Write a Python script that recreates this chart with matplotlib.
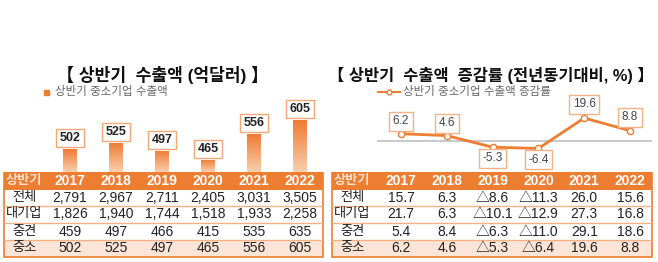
import numpy as np
import matplotlib.pyplot as plt
from matplotlib.lines import Line2D
from matplotlib.patches import Rectangle
from matplotlib.colors import LinearSegmentedColormap

plt.rcParams['font.family'] = ['Liberation Sans', 'Noto Sans CJK KR', 'DejaVu Sans']

# data
years = ['2017', '2018', '2019', '2020', '2021', '2022']
sme_export = [502, 525, 497, 465, 556, 605]
sme_growth = [6.2, 4.6, -5.3, -6.4, 19.6, 8.8]

row_names = ['전체', '대기업', '중견', '중소']
export_rows = [
    ['2,791', '2,967', '2,711', '2,405', '3,031', '3,505'],
    ['1,826', '1,940', '1,744', '1,518', '1,933', '2,258'],
    ['459', '497', '466', '415', '535', '635'],
    ['502', '525', '497', '465', '556', '605'],
]
growth_rows = [
    ['15.7', '6.3', '△8.6', '△11.3', '26.0', '15.6'],
    ['21.7', '6.3', '△10.1', '△12.9', '27.3', '16.8'],
    ['5.4', '8.4', '△6.3', '△11.0', '29.1', '18.6'],
    ['6.2', '4.6', '△5.3', '△6.4', '19.6', '8.8'],
]

ORANGE = '#ED7D31'
PEACH = '#FCE4D6'
W, H = 658, 262

fig = plt.figure(figsize=(W / 100, H / 100), dpi=100)


def box(x0, y0, x1, y1):
    # pixel box (from top left) -> figure rect
    return [x0 / W, 1 - y1 / H, (x1 - x0) / W, (y1 - y0) / H]


def fx(x):
    return x / W


def fy(y):
    return 1 - y / H


x = np.arange(len(years))

# ---- left: bars ----
left_xlim = (-1.435, 5.5)
ax1 = fig.add_axes(box(4, 100, 323, 172))
ax1.set_xlim(*left_xlim)
ax1.set_ylim(423, 675)
ax1.axis('off')
grad = np.linspace(0, 1, 100).reshape(-1, 1)
cmap = LinearSegmentedColormap.from_list('og', ['#F9CFAE', '#EE7B32'])
bars = ax1.bar(x, sme_export, width=0.3, bottom=0, color='none', edgecolor='none')
for b, v in zip(bars, sme_export):
    im = ax1.imshow(grad, extent=[b.get_x(), b.get_x() + b.get_width(), 423, v],
                    origin='lower', cmap=cmap, aspect='auto', zorder=2)
    im.set_clip_path(b)
    ax1.annotate(str(v), (b.get_x() + b.get_width() / 2, v), xytext=(0, 8),
                 textcoords='offset points', ha='center', va='center',
                 fontsize=9, fontweight='bold', color='#222222',
                 bbox=dict(boxstyle='square,pad=0.25', fc='white', ec='#F4A878', lw=1))
ax1.set_ylim(423, 675)

fig.text(fx(163), fy(75), '【 상반기  수출액 (억달러) 】', ha='center', va='center',
         fontsize=12.3, fontweight='bold', color='#111111')
fig.add_artist(Rectangle((fx(44), fy(95)), fx(5), 5 / H, color=ORANGE, transform=fig.transFigure))
fig.text(fx(55), fy(92), '상반기 중소기업 수출액', ha='left', va='center', fontsize=8.3, color='#666666')

# ---- right: line ----
right_xlim = (-1.507, 5.48)
ax2 = fig.add_axes(box(332, 100, 652, 172))
ax2.set_xlim(*right_xlim)
ax2.set_ylim(-26.5, 35)
ax2.axis('off')
ax2.plot([-0.5, 5.5], [0, 0], color='#BFBFBF', lw=1.2, zorder=1)
ax2.plot(x, sme_growth, color=ORANGE, lw=2, marker='o', ms=4.5, mfc='white',
         mec=ORANGE, mew=1, zorder=3)
offs = [9, 9, -8, -8, 10, 9.5]
for xi, v, o in zip(x, sme_growth, offs):
    ax2.annotate(f'{v:.1f}', (xi, v), xytext=(0, o), textcoords='offset points',
                 ha='center', va='center', fontsize=8.5, color='#444444',
                 bbox=dict(boxstyle='square,pad=0.3', fc='white', ec='#F4B183', lw=1))

fig.text(fx(491), fy(75), '【 상반기  수출액  증감률 (전년동기대비, %) 】', ha='center', va='center',
         fontsize=11.8, fontweight='bold', color='#111111')
fig.add_artist(Line2D([fx(378), fx(400)], [fy(92), fy(92)], color=ORANGE, lw=1.5,
                      transform=fig.transFigure))
fig.add_artist(Line2D([fx(389)], [fy(92)], color=ORANGE, marker='o', ms=3.5, mfc='white',
                      mec=ORANGE, transform=fig.transFigure))
fig.text(fx(403), fy(92), '상반기 중소기업 수출액 증감률', ha='left', va='center', fontsize=8.3, color='#666666')


# ---- tables ----
def draw_table(rect, xlim, label_x, rows):
    ax = fig.add_axes(rect)
    ax.set_xlim(*xlim)
    ax.set_ylim(85, 0)
    ax.axis('off')
    edges = [0, 18, 34, 51, 68, 85]
    ax.add_patch(Rectangle((xlim[0], 0), xlim[1] - xlim[0], 18, color=ORANGE, lw=0))
    ax.add_patch(Rectangle((xlim[0], 68), xlim[1] - xlim[0], 17, color=PEACH, lw=0))
    for e in edges[2:-1]:
        ax.plot(xlim, [e, e], color='#F4B183', lw=1)
    ax.add_patch(Rectangle((xlim[0], 0.5), xlim[1] - xlim[0], 84, fill=False,
                           ec=ORANGE, lw=1.2, clip_on=False))
    ax.text(label_x, 9, '상반기', ha='center', va='center', fontsize=9.5,
            fontweight='bold', color='#FBE0CC')
    for xi, yr in zip(x, years):
        ax.text(xi, 9, yr, ha='center', va='center', fontsize=10, fontweight='bold', color='white')
    for r, (name, vals) in enumerate(zip(row_names, rows)):
        yc = (edges[r + 1] + edges[r + 2]) / 2
        ax.text(label_x, yc, name, ha='center', va='center', fontsize=9.5, color='#222222')
        for xi, v in zip(x, vals):
            ax.text(xi, yc, v, ha='center', va='center', fontsize=10, color='#222222')
    return ax


draw_table(box(4, 172, 323, 257), left_xlim, -1.0, export_rows)
draw_table(box(332, 172, 652, 257), right_xlim, -1.07, growth_rows)

fig.savefig('out.png', dpi=100, facecolor='white')
